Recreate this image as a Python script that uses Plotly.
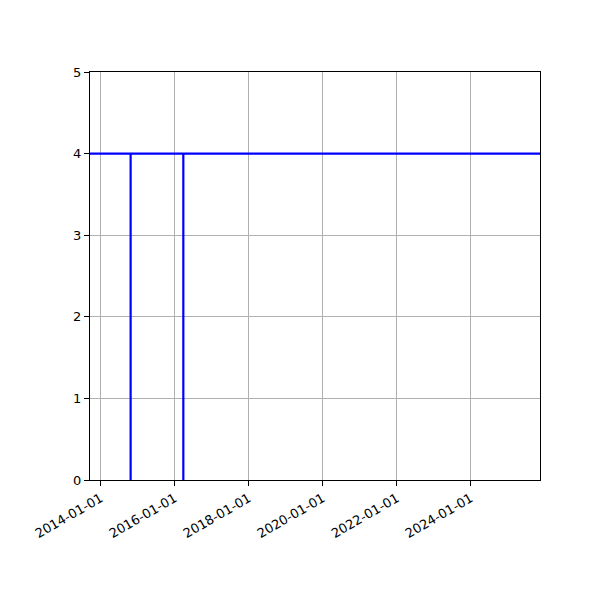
import plotly.graph_objects as go

# step-like series: level 4 with two drops to 0
dates = ["2013-09-17", "2014-10-23", "2014-10-23", "2014-10-23",
         "2016-03-26", "2016-03-26", "2016-03-26", "2025-11-14"]
values = [4, 4, 0, 4, 4, 0, 4, 4]

tick_dates = ["2014-01-01", "2016-01-01", "2018-01-01",
              "2020-01-01", "2022-01-01", "2024-01-01"]

fig = go.Figure()
fig.add_trace(go.Scatter(x=dates, y=values, mode="lines",
                         line=dict(color="#0000ff", width=2.2)))

# page body adds 8px offset, so margins are shifted to compensate
fig.update_layout(
    width=600, height=600,
    margin=dict(l=82, r=68, t=64, b=128),
    plot_bgcolor="white", paper_bgcolor="white",
    showlegend=False,
    font=dict(family="DejaVu Sans", size=13, color="black"),
)
fig.update_xaxes(
    type="date", range=["2013-09-17", "2025-11-14"],
    tickvals=tick_dates, ticktext=tick_dates, tickangle=-30,
    showgrid=True, gridcolor="#b0b0b0", gridwidth=1,
    showline=True, linecolor="black", linewidth=1, mirror=True,
    ticks="outside", ticklen=5, tickcolor="black", zeroline=False,
)
fig.update_yaxes(
    range=[0, 5], tickvals=[0, 1, 2, 3, 4, 5],
    showgrid=True, gridcolor="#b0b0b0", gridwidth=1,
    showline=True, linecolor="black", linewidth=1, mirror=True,
    ticks="outside", ticklen=5, tickcolor="black", zeroline=False,
)

fig.write_html("out.html")
